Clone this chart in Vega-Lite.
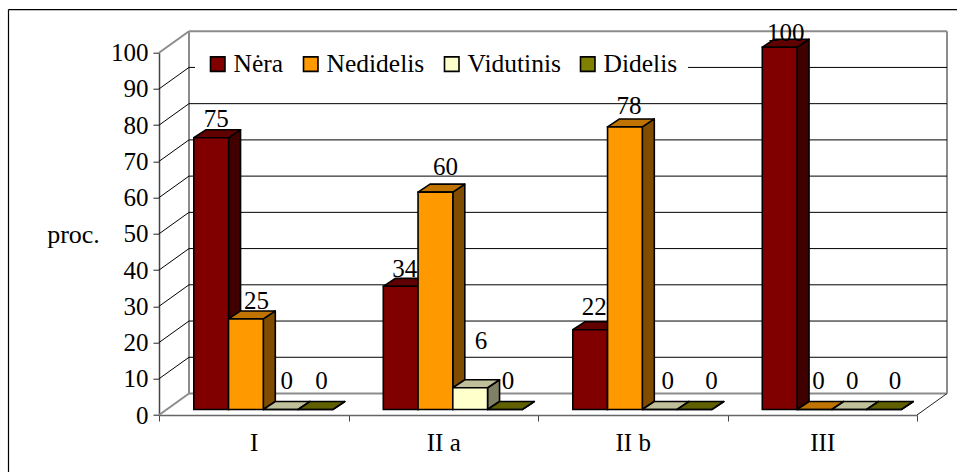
{
  "$schema": "https://vega.github.io/schema/vega-lite/v6.json",
  "width": 758,
  "height": 362.3,
  "padding": {"left": 159, "top": 52.7, "right": 40, "bottom": 57},
  "autosize": {"type": "none"},
  "background": "white",
  "config": {
    "view": {"stroke": null},
    "font": "Liberation Serif",
    "axis": {"labelFont": "Liberation Serif", "titleFont": "Liberation Serif", "labelFontSize": 25, "titleFontSize": 26, "labelColor": "black", "titleColor": "black", "titleFontWeight": "normal"},
    "legend": {"labelFont": "Liberation Serif", "labelFontSize": 25.5, "labelColor": "black"}
  },
  "params": [
    {"name": "slot", "value": 0.1836},
    {"name": "barW", "value": 0.1834},
    {"name": "barDX", "value": 0.0633},
    {"name": "barDY", "value": 2.2},
    {"name": "lift", "value": 1.52},
    {"name": "wallX", "value": 0.1583},
    {"name": "wallY", "value": 5.934}
  ],
  "data": {
    "values": [
      {"category": "I", "series": "Nėra", "value": 75},
      {"category": "I", "series": "Nedidelis", "value": 25},
      {"category": "I", "series": "Vidutinis", "value": 0},
      {"category": "I", "series": "Didelis", "value": 0},
      {"category": "II a", "series": "Nėra", "value": 34},
      {"category": "II a", "series": "Nedidelis", "value": 60},
      {"category": "II a", "series": "Vidutinis", "value": 6},
      {"category": "II a", "series": "Didelis", "value": 0},
      {"category": "II b", "series": "Nėra", "value": 22},
      {"category": "II b", "series": "Nedidelis", "value": 78},
      {"category": "II b", "series": "Vidutinis", "value": 0},
      {"category": "II b", "series": "Didelis", "value": 0},
      {"category": "III", "series": "Nėra", "value": 100},
      {"category": "III", "series": "Nedidelis", "value": 0},
      {"category": "III", "series": "Vidutinis", "value": 0},
      {"category": "III", "series": "Didelis", "value": 0}
    ]
  },
  "transform": [
    {"calculate": "indexof(['I','II a','II b','III'], datum.category)", "as": "cat"},
    {"calculate": "indexof(['Nėra','Nedidelis','Vidutinis','Didelis'], datum.series)", "as": "ser"},
    {"calculate": "datum.category + '|' + datum.series", "as": "key"},
    {"calculate": "datum.cat + slot + datum.ser * barW", "as": "x0"},
    {"calculate": "datum.x0 + barW", "as": "x1"},
    {"calculate": "datum.value + lift", "as": "yt"}
  ],
  "encoding": {
    "x": {
      "field": "px",
      "type": "quantitative",
      "scale": {"domain": [0, 4], "nice": false, "zero": false},
      "axis": {
        "title": null,
        "values": [0, 1, 2, 3, 4],
        "labelExpr": "['I','II a','II b','III',''][datum.value]",
        "labelOffset": 94.75,
        "labelBound": false,
        "labelFlush": false,
        "labelOverlap": false,
        "grid": false,
        "tickSize": 6,
        "tickColor": "#444444",
        "domainColor": "#666666",
        "domainWidth": 1.5,
        "labelPadding": 9
      }
    },
    "y": {
      "field": "py",
      "type": "quantitative",
      "stack": null,
      "scale": {"domain": [0, 100], "nice": false, "zero": false},
      "axis": {
        "title": "proc.",
        "titleAngle": 0,
        "titleX": -86,
        "titleY": 189.3,
        "titleAlign": "center",
        "titleBaseline": "alphabetic",
        "values": [0, 10, 20, 30, 40, 50, 60, 70, 80, 90, 100],
        "grid": false,
        "tickSize": 6,
        "tickColor": "#222222",
        "domainColor": "#444444",
        "domainWidth": 1.5,
        "labelPadding": 5
      }
    }
  },
  "layer": [
    {
      "description": "Outer frame: only its left and top edges fall inside the window.",
      "data": {"values": [{"edge": "left"}, {"edge": "top"}]},
      "transform": [
        {"calculate": "-0.7942", "as": "px"},
        {"calculate": "datum.edge == 'left' ? -0.7942 : 4.25", "as": "px2"},
        {"calculate": "111.9", "as": "py"},
        {"calculate": "datum.edge == 'left' ? -16 : 111.9", "as": "py2"}
      ],
      "mark": {"type": "rule", "stroke": "black", "strokeWidth": 1.2},
      "encoding": {"x2": {"field": "px2"}, "y2": {"field": "py2"}}
    },
    {
      "description": "Grey outline of the box: side wall, back wall and floor.",
      "data": {"values": [{"edge": "floorLeft"}, {"edge": "wallLeftTop"}, {"edge": "backLeft"}, {"edge": "backTop"}, {"edge": "backBottom"}, {"edge": "backRight"}]},
      "transform": [
        {"calculate": "{floorLeft: 0, wallLeftTop: 0, backLeft: wallX, backTop: wallX, backBottom: wallX, backRight: 4 + wallX}[datum.edge]", "as": "px"},
        {"calculate": "{floorLeft: wallX, wallLeftTop: wallX, backLeft: wallX, backTop: 4 + wallX, backBottom: 4 + wallX, backRight: 4 + wallX}[datum.edge]", "as": "px2"},
        {"calculate": "{floorLeft: 0, wallLeftTop: 100, backLeft: wallY, backTop: 100 + wallY, backBottom: wallY, backRight: wallY}[datum.edge]", "as": "py"},
        {"calculate": "{floorLeft: wallY, wallLeftTop: 100 + wallY, backLeft: 100 + wallY, backTop: 100 + wallY, backBottom: wallY, backRight: 100 + wallY}[datum.edge]", "as": "py2"}
      ],
      "mark": {"type": "rule", "stroke": "#8c8c8c", "strokeWidth": 2},
      "encoding": {"x2": {"field": "px2"}, "y2": {"field": "py2"}}
    },
    {
      "description": "Front right corner of the floor.",
      "data": {"values": [{"edge": "floorRight"}]},
      "transform": [
        {"calculate": "4", "as": "px"},
        {"calculate": "4 + wallX", "as": "px2"},
        {"calculate": "0", "as": "py"},
        {"calculate": "wallY", "as": "py2"}
      ],
      "mark": {"type": "rule", "stroke": "#222222", "strokeWidth": 1},
      "encoding": {"x2": {"field": "px2"}, "y2": {"field": "py2"}}
    },
    {
      "description": "Gridlines climbing the side wall.",
      "data": {"values": [{"tick": 10}, {"tick": 20}, {"tick": 30}, {"tick": 40}, {"tick": 50}, {"tick": 60}, {"tick": 70}, {"tick": 80}, {"tick": 90}]},
      "transform": [
        {"calculate": "0", "as": "px"},
        {"calculate": "wallX", "as": "px2"},
        {"calculate": "datum.tick", "as": "py"},
        {"calculate": "datum.tick + wallY", "as": "py2"}
      ],
      "mark": {"type": "rule", "stroke": "black", "strokeWidth": 1},
      "encoding": {"x2": {"field": "px2"}, "y2": {"field": "py2"}}
    },
    {
      "description": "Gridlines across the back wall.",
      "data": {"values": [{"tick": 10}, {"tick": 20}, {"tick": 30}, {"tick": 40}, {"tick": 50}, {"tick": 60}, {"tick": 70}, {"tick": 80}, {"tick": 90}]},
      "transform": [
        {"calculate": "wallX", "as": "px"},
        {"calculate": "4 + wallX", "as": "px2"},
        {"calculate": "datum.tick + wallY", "as": "py"}
      ],
      "mark": {"type": "rule", "stroke": "black", "strokeWidth": 1},
      "encoding": {"x2": {"field": "px2"}}
    },
    {
      "description": "Right-hand faces of the bars.",
      "transform": [
        {"calculate": "[0, 1]", "as": "t"},
        {"flatten": ["t"]},
        {"calculate": "datum.x1 + datum.t * barDX", "as": "px"},
        {"calculate": "datum.yt + datum.t * barDY", "as": "py"},
        {"calculate": "lift + datum.t * barDY", "as": "py2"}
      ],
      "mark": {"type": "area", "orient": "vertical", "stroke": "black", "strokeWidth": 1.6, "strokeJoin": "round"},
      "encoding": {
        "y2": {"field": "py2"},
        "detail": {"field": "key"},
        "fill": {
          "field": "series",
          "scale": {"domain": ["Nėra", "Nedidelis", "Vidutinis", "Didelis"], "range": ["#400000", "#804d00", "#808066", "#404000"]},
          "legend": null
        }
      }
    },
    {
      "description": "Top faces of the bars.",
      "transform": [
        {"calculate": "[0, 1, 2, 3]", "as": "t"},
        {"flatten": ["t"]},
        {"calculate": "[datum.x0, datum.x0 + barDX, datum.x1, datum.x1 + barDX][datum.t]", "as": "px"},
        {"calculate": "datum.yt + [0, barDY, barDY, barDY][datum.t]", "as": "py"},
        {"calculate": "datum.yt + [0, 0, 0, barDY][datum.t]", "as": "py2"}
      ],
      "mark": {"type": "area", "orient": "vertical", "stroke": "black", "strokeWidth": 1.6, "strokeJoin": "round"},
      "encoding": {
        "y2": {"field": "py2"},
        "detail": {"field": "key"},
        "fill": {
          "field": "series",
          "scale": {"domain": ["Nėra", "Nedidelis", "Vidutinis", "Didelis"], "range": ["#600000", "#bf7300", "#bfbf99", "#606000"]},
          "legend": null
        }
      }
    },
    {
      "description": "Front faces of the bars; these carry the legend.",
      "transform": [
        {"calculate": "datum.x0", "as": "px"},
        {"calculate": "datum.x1", "as": "px2"},
        {"calculate": "datum.yt", "as": "py"},
        {"calculate": "lift", "as": "py2"}
      ],
      "mark": {"type": "rect", "stroke": "black", "strokeWidth": 1.6},
      "encoding": {
        "x2": {"field": "px2"},
        "y2": {"field": "py2"},
        "fill": {
          "field": "series",
          "scale": {"domain": ["Nėra", "Nedidelis", "Vidutinis", "Didelis"], "range": ["#800000", "#ff9900", "#ffffcc", "#808000"]},
          "legend": {
            "title": null,
            "orient": "none",
            "direction": "horizontal",
            "columns": 4,
            "legendX": 36,
            "legendY": -11.7,
            "padding": 10,
            "fillColor": "white",
            "symbolType": "square",
            "symbolSize": 210,
            "symbolStrokeColor": "black",
            "symbolStrokeWidth": 1.6,
            "labelOffset": 3,
            "columnPadding": 14
          }
        }
      }
    },
    {
      "description": "Value labels, which sit a little above and right of each bar.",
      "transform": [
        {"calculate": "datum.x0 + barW / 2 + [[5, 10.7, 6, 6], [4, 10, 10.7, 3], [4, 4, 8, 17], [6, 4, 3, 11]][datum.cat][datum.ser] / 189.5", "as": "px"},
        {"calculate": "datum.value + [[4.4, 4.3, 7.3, 7.3], [4.1, 6.2, 12.3, 7.3], [5.5, 5.1, 7.3, 7.3], [3.3, 7.3, 7.3, 7.3]][datum.cat][datum.ser]", "as": "py"}
      ],
      "mark": {"type": "text", "font": "Liberation Serif", "fontSize": 25, "fill": "black", "align": "center", "baseline": "alphabetic"},
      "encoding": {"text": {"field": "value", "type": "quantitative"}}
    }
  ],
  "resolve": {"scale": {"fill": "independent"}}
}
